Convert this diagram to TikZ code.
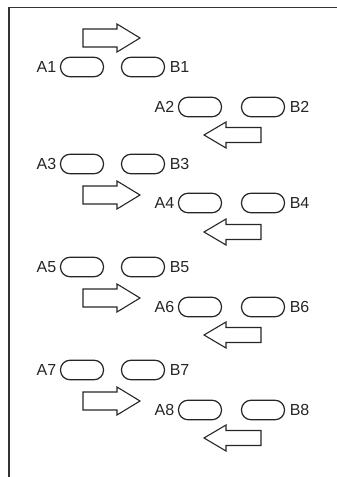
\documentclass[tikz,border=0pt]{standalone}
\usepackage{fontspec}
\setmainfont{Liberation Sans}
\begin{document}
\begin{tikzpicture}[x=1pt,y=1pt,
  capsule/.style={draw=black!85, line width=1.2pt, rounded corners=9.5pt, minimum width=43pt, minimum height=19.5pt, inner sep=0pt},
  lab/.style={font=\fontsize{16}{16}\selectfont, inner sep=0pt, text=black!85},
  fat/.style={draw=black!85, line width=1.1pt, line join=miter},
  rarrow/.pic={\draw[fat] (0,0) -- (-23,14) -- (-23,9) -- (-57,9) -- (-57,-9) -- (-23,-9) -- (-23,-14) -- cycle;},
  larrow/.pic={\draw[fat] (0,0) -- (22,13) -- (22,7.5) -- (57,7.5) -- (57,-7.5) -- (22,-7.5) -- (22,-13) -- cycle;}
]
\useasboundingbox (0,0) rectangle (337,-477);
\draw[line width=1.3pt, draw=black!80] (9,-477) -- (9,-7.5) -- (337,-7.5);
% capsule pairs
\foreach \i/\xa/\xb/\y in {1/82/143/67, 2/200/263/107, 3/82/143/164, 4/200/263/203, 5/82/143/267, 6/200/263/307, 7/82/143/370, 8/200/263/410}{
  \node[capsule] (a\i) at (\xa,-\y) {};
  \node[capsule] (b\i) at (\xb,-\y) {};
  \node[lab, anchor=east] (la\i) at ([xshift=-3.5pt]a\i.west) {A\i};
  \node[lab, anchor=west] (lb\i) at ([xshift=4.5pt]b\i.east) {B\i};
}
% right arrows
\foreach \y in {38,195,298,401}{ \pic at (140,-\y) {rarrow}; }
% left arrows
\foreach \y in {135,232,335,438}{ \pic at (204,-\y) {larrow}; }
\end{tikzpicture}
\end{document}
